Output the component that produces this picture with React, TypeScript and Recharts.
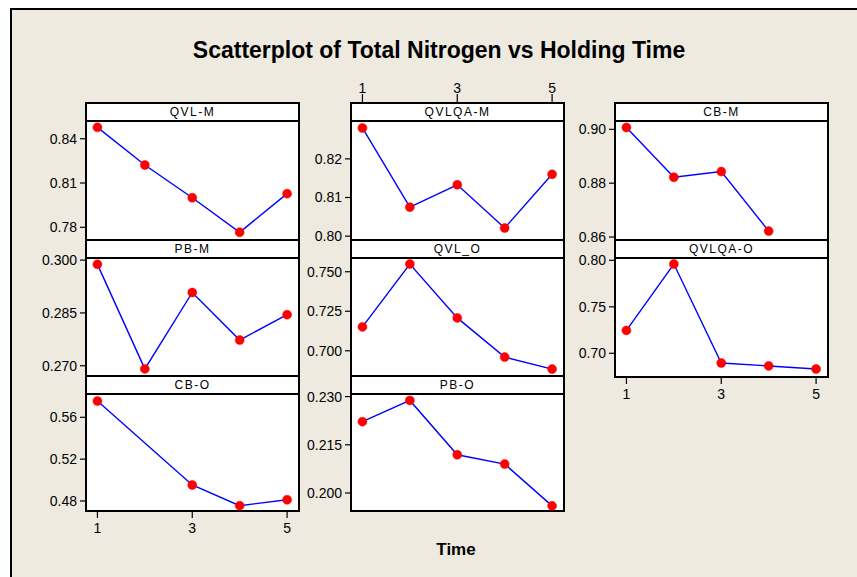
import React from 'react';
import { LineChart, Line, XAxis, YAxis } from 'recharts';

// holding time (x) shared by every panel
const times = [1, 2, 3, 4, 5];
const timeTicks = [1, 3, 5];

// total nitrogen per sample group (null = missing observation)
const qvlM = [0.8477, 0.8222, 0.8, 0.7766, 0.8028];
const qvlqaM = [0.828, 0.8075, 0.8133, 0.8021, 0.816];
const cbM = [0.9007, 0.8822, 0.8843, 0.8622, null];
const pbM = [0.2988, 0.2691, 0.2908, 0.2773, 0.2845];
const qvlO = [0.7151, 0.7549, 0.7208, 0.696, 0.6884];
const qvlqaO = [0.7246, 0.796, 0.6896, 0.6864, 0.6831];
const cbO = [0.5756, null, 0.4953, 0.4755, 0.4812];
const pbO = [0.2222, 0.2288, 0.2119, 0.209, 0.196];

const FONT = '"Liberation Sans", Arial, sans-serif';
const colLeft = [86, 351, 615];
const plotTop = [121, 258, 394];
const plotBottom = [240, 377, 511];
const HEADER = 18;
const PLOT_W = 211;
const TICK_FONT = 14;

type PanelDef = {
  label: string;
  values: (number | null)[];
  yTicks: number[];
  domain: [number, number];
  decimals: number;
  col: number;
  row: number;
  axis?: 'top' | 'bottom';
};

const panels: PanelDef[] = [
  { label: 'QVL-M', values: qvlM, yTicks: [0.78, 0.81, 0.84], domain: [0.7714, 0.852], decimals: 2, col: 0, row: 0 },
  { label: 'QVLQA-M', values: qvlqaM, yTicks: [0.8, 0.81, 0.82], domain: [0.799, 0.8298], decimals: 2, col: 1, row: 0, axis: 'top' },
  { label: 'CB-M', values: cbM, yTicks: [0.86, 0.88, 0.9], domain: [0.8589, 0.9031], decimals: 2, col: 2, row: 0 },
  { label: 'PB-M', values: pbM, yTicks: [0.27, 0.285, 0.3], domain: [0.2668, 0.3006], decimals: 3, col: 0, row: 1 },
  { label: 'QVL_O', values: qvlO, yTicks: [0.7, 0.725, 0.75], domain: [0.6834, 0.7587], decimals: 3, col: 1, row: 1 },
  { label: 'QVLQA-O', values: qvlqaO, yTicks: [0.7, 0.75, 0.8], domain: [0.6745, 0.8025], decimals: 2, col: 2, row: 1, axis: 'bottom' },
  { label: 'CB-O', values: cbO, yTicks: [0.48, 0.52, 0.56], domain: [0.4704, 0.5823], decimals: 2, col: 0, row: 2, axis: 'bottom' },
  { label: 'PB-O', values: pbO, yTicks: [0.2, 0.215, 0.23], domain: [0.1944, 0.2308], decimals: 3, col: 1, row: 2 },
];

const TOP_BAND = 45;
const BOTTOM_BAND = 35;

const TopTick = (props: any) => {
  const { x, payload } = props;
  const hdr = TOP_BAND - HEADER;
  return (
    <g>
      <line x1={x} x2={x} y1={hdr} y2={hdr - 9} stroke="#000" strokeWidth={1.2} />
      <text x={x} y={hdr - 15} textAnchor="middle" dominantBaseline="central" fontSize={TICK_FONT} fontFamily={FONT} fill="#000">
        {payload.value}
      </text>
    </g>
  );
};

const Panel = ({ p }: { p: PanelDef }) => {
  const left = colLeft[p.col];
  const top = plotTop[p.row];
  const bottom = plotBottom[p.row];
  const plotH = bottom - top;
  const data = times.map((t, i) => ({ x: t, y: p.values[i] }));
  return (
    <>
      <div
        style={{
          position: 'absolute',
          left: left - 1,
          top: top - HEADER - 1,
          width: PLOT_W + 4,
          height: plotH + HEADER + 2,
          border: '2px solid #000',
          boxSizing: 'border-box',
          background: '#fff',
        }}
      />
      <div
        style={{
          position: 'absolute',
          left: left - 1,
          top: top - HEADER,
          width: PLOT_W + 4,
          height: HEADER,
          lineHeight: `${HEADER}px`,
          textAlign: 'center',
          fontFamily: FONT,
          fontSize: 12,
          letterSpacing: 1.5,
          color: '#000',
        }}
      >
        {p.label}
      </div>
      <div style={{ position: 'absolute', left: left - 1, top: top - 1, width: PLOT_W + 4, height: 2, background: '#000' }} />
      <div style={{ position: 'absolute', left: left + 1 - 60, top: top - TOP_BAND }}>
        <LineChart
          width={60 + PLOT_W + 12}
          height={TOP_BAND + plotH + BOTTOM_BAND}
          data={data}
          margin={{
            top: p.axis === 'top' ? 0 : TOP_BAND,
            right: 12,
            left: 0,
            bottom: p.axis === 'bottom' ? 0 : BOTTOM_BAND,
          }}
        >
          <XAxis
            dataKey="x"
            type="number"
            domain={[0.78, 5.23]}
            ticks={timeTicks}
            allowDataOverflow
            hide={!p.axis}
            orientation={p.axis === 'top' ? 'top' : 'bottom'}
            height={p.axis === 'top' ? TOP_BAND : BOTTOM_BAND}
            axisLine={false}
            tickLine={p.axis === 'top' ? false : { stroke: '#000', strokeWidth: 1.2 }}
            tickSize={7}
            tickMargin={5}
            tick={p.axis === 'top' ? <TopTick /> : { fill: '#000', fontSize: TICK_FONT, fontFamily: FONT }}
          />
          <YAxis
            type="number"
            width={60}
            domain={p.domain}
            ticks={p.yTicks}
            interval={0}
            allowDataOverflow
            axisLine={false}
            tickLine={{ stroke: '#000', strokeWidth: 1.2 }}
            tickSize={7}
            tickMargin={3}
            tick={{ fill: '#000', fontSize: TICK_FONT, fontFamily: FONT }}
            tickFormatter={(v: number) => v.toFixed(p.decimals)}
          />
          <Line
            type="linear"
            dataKey="y"
            stroke="#0000ff"
            strokeWidth={1.4}
            connectNulls
            dot={{ r: 4.5, fill: '#ff0000', stroke: '#ff0000', strokeWidth: 0.5 }}
            activeDot={false}
            isAnimationActive={false}
          />
        </LineChart>
      </div>
    </>
  );
};

export default function App() {
  return (
    <div style={{ position: 'absolute', left: 0, top: 0, width: 857, height: 577, background: '#fff', overflow: 'hidden' }}>
      <div
        style={{
          position: 'absolute',
          left: 10,
          top: 8,
          width: 857,
          height: 577,
          background: '#eeeae0',
          borderLeft: '2px solid #000',
          borderTop: '2px solid #000',
        }}
      />
      <div
        style={{
          position: 'absolute',
          left: 139,
          top: 37,
          width: 600,
          textAlign: 'center',
          lineHeight: '26px',
          fontFamily: FONT,
          fontWeight: 'bold',
          fontSize: 23,
          color: '#000',
        }}
      >
        Scatterplot of Total Nitrogen vs Holding Time
      </div>
      {panels.map((p) => (
        <Panel key={p.label} p={p} />
      ))}
      <div
        style={{
          position: 'absolute',
          left: 406,
          top: 540,
          width: 100,
          textAlign: 'center',
          lineHeight: '20px',
          fontFamily: FONT,
          fontWeight: 'bold',
          fontSize: 17,
          color: '#000',
        }}
      >
        Time
      </div>
    </div>
  );
}
